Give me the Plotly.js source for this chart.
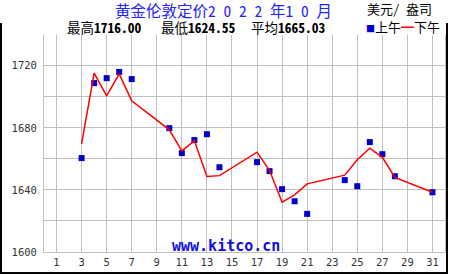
<!DOCTYPE html>
<html>
<head>
<meta charset="utf-8">
<script src="https://cdn.plot.ly/plotly-3.0.1.min.js"></script>
<style>html,body{margin:0;padding:0;background:#fff;}#chart{width:450px;height:275px;}</style>
</head>
<body>
<div id="chart"></div>
<script>
// ---- data ----
const amDays = [3, 4, 5, 6, 7, 10, 11, 12, 13, 14, 17, 18, 19, 20, 21, 24, 25, 26, 27, 28, 31];
const amPrices = [1660.5, 1708.8, 1712.0, 1716.0, 1711.4, 1679.8, 1663.7, 1672.1, 1675.9, 1654.6, 1657.9, 1652.1, 1640.5, 1632.7, 1624.55, 1646.3, 1642.4, 1670.8, 1663.0, 1648.8, 1638.5];
const pmDays = [3, 4, 5, 6, 7, 10, 11, 12, 13, 14, 17, 18, 19, 20, 21, 24, 25, 26, 27, 28, 31];
const pmPrices = [1669.7, 1715.3, 1700.6, 1714.8, 1697.4, 1678.7, 1665.2, 1671.6, 1648.6, 1649.2, 1664.3, 1652.5, 1632.1, 1636.8, 1643.9, 1649.5, 1659.4, 1666.9, 1661.0, 1648.0, 1638.5];
const xTickVals = [1, 3, 5, 7, 9, 11, 13, 15, 17, 19, 21, 23, 25, 27, 29, 31];
const yTickVals = [1600, 1640, 1680, 1720];
const titleText = '黄金伦敦定价2 0 2 2 年1 0 月';
const unitText = '美元/ 盎司';
const statLabels = ['最高', '最低', '平均'];
const statValues = ['1716.00', '1624.55', '1665.03'];
const legendLabels = ['上午', '下午'];
const watermark = 'www.kitco.cn';

// ---- layout geometry ----
const W = 450, H = 275;
const M = {l: 44, r: 5, t: 35, b: 23};
const pw = W - M.l - M.r, ph = H - M.t - M.b;
const px = x => (x - M.l) / pw;
const py = y => (H - M.b - y) / ph;

const cjk = '"Noto Sans Mono CJK SC", "Noto Sans CJK SC", "DejaVu Sans Mono", monospace';
const blue = '#0000cc';

const traces = [
  {
    x: amDays, y: amPrices, type: 'scatter', mode: 'markers',
    marker: {symbol: 'square', size: 6, color: blue, line: {width: 0}},
    hoverinfo: 'skip', showlegend: false
  },
  {
    x: pmDays, y: pmPrices, type: 'scatter', mode: 'lines',
    line: {color: '#ff0000', width: 1.5},
    hoverinfo: 'skip', showlegend: false
  }
];

const statX = [65.5, 160, 250];
const annotations = [
  {text: titleText, x: px(223), y: py(9.5), xanchor: 'center', yanchor: 'middle',
   font: {family: cjk, size: 15.5, color: '#2222ff'}},
  {text: unitText, x: px(433), y: py(8.5), xanchor: 'right', yanchor: 'middle',
   font: {family: cjk, size: 13, color: '#000'}},
  {text: '<span style="color:' + blue + ';font-size:9px">■</span>' + legendLabels[0] +
         '<span style="color:#ff0000">━</span>' + legendLabels[1],
   x: px(441), y: py(26.5), xanchor: 'right', yanchor: 'middle',
   font: {family: cjk, size: 13, color: '#000'}},
  {text: watermark, x: px(225.5), y: py(246), xanchor: 'center', yanchor: 'middle',
   font: {family: '"DejaVu Sans Mono", "Liberation Mono", monospace', size: 15, color: '#1010e0', weight: 'bold'}}
];
statLabels.forEach((lab, i) => {
  annotations.push({
    text: lab + '<b>' + statValues[i] + '</b>', x: px(statX[i]), y: py(26.5),
    xanchor: 'left', yanchor: 'middle', font: {family: cjk, size: 13.5, color: '#000'}
  });
});
annotations.forEach(a => { a.xref = 'paper'; a.yref = 'paper'; a.showarrow = false; a.borderpad = 0; });

const frame = {type: 'path', xref: 'paper', yref: 'paper', line: {color: '#000', width: 2},
  path: 'M ' + px(1) + ' ' + py(23) + ' L ' + px(1) + ' ' + py(273) + ' L ' + px(447) + ' ' + py(273) + ' L ' + px(447) + ' ' + py(23)};

const layout = {
  width: W, height: H, margin: M,
  paper_bgcolor: '#fff', plot_bgcolor: '#fff',
  showlegend: false,
  xaxis: {
    range: [0, 32], tickvals: xTickVals, ticktext: xTickVals.map(String),
    showgrid: true, gridcolor: '#c0c0c0', gridwidth: 1,
    showline: true, linecolor: '#c0c0c0', linewidth: 1, zeroline: false, ticks: '',
    tickfont: {family: '"DejaVu Sans Mono", monospace', size: 10.5, color: '#333'}, fixedrange: true
  },
  yaxis: {
    range: [1600, 1739.8], tickvals: yTickVals, ticktext: yTickVals.map(String),
    showgrid: true, gridcolor: '#c0c0c0', gridwidth: 1,
    minor: {dtick: 20, tick0: 1600, showgrid: true, gridcolor: '#c0c0c0', gridwidth: 1, ticks: ''},
    showline: true, mirror: true, linecolor: '#c0c0c0', linewidth: 1, zeroline: false, ticks: '',
    ticklabelstandoff: 4,
    tickfont: {family: '"DejaVu Sans Mono", monospace', size: 10.5, color: '#333'}, fixedrange: true
  },
  annotations: annotations,
  shapes: [frame]
};

Plotly.newPlot('chart', traces, layout, {staticPlot: true, displayModeBar: false});
</script>
</body>
</html>
